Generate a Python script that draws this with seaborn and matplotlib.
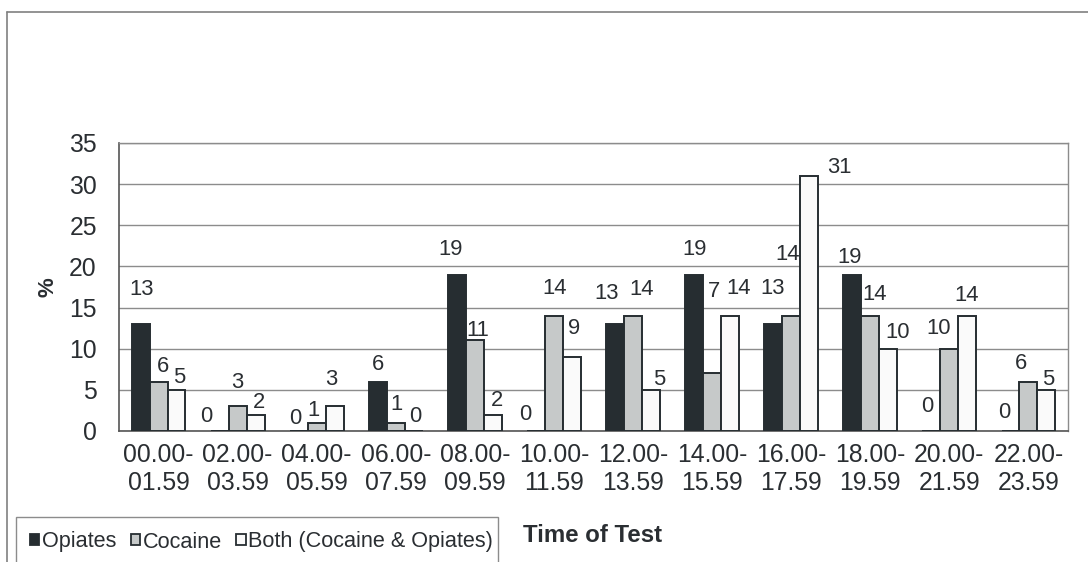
import numpy as np
import pandas as pd
import matplotlib
matplotlib.use("Agg")
import matplotlib.pyplot as plt
from matplotlib.patches import Rectangle, Patch
from matplotlib.lines import Line2D
import seaborn as sns

# ---- data ----
time_labels = ["00.00-\n01.59", "02.00-\n03.59", "04.00-\n05.59", "06.00-\n07.59",
               "08.00-\n09.59", "10.00-\n11.59", "12.00-\n13.59", "14.00-\n15.59",
               "16.00-\n17.59", "18.00-\n19.59", "20.00-\n21.59", "22.00-\n23.59"]
series_names = ["Opiates", "Cocaine", "Both (Cocaine & Opiates)"]
opiates = [13, 0, 0, 6, 19, 0, 13, 19, 13, 19, 0, 0]
cocaine = [6, 3, 1, 1, 11, 14, 14, 7, 14, 14, 10, 6]
both = [5, 2, 3, 0, 2, 9, 5, 14, 31, 10, 14, 5]
y_ticks = [0, 5, 10, 15, 20, 25, 30, 35]

# ---- style ----
fill_colors = ["#262d31", "#c6c9c9", "#fafafa"]
edge_color = "#262d31"
text_color = "#2a2e32"
grid_color = "#8c8c8c"
# label offsets (pixels, x right / y down) relative to bar-top centre
label_offsets = [
    [(1, -35), (-13, -14), (-4, -12), (0, -17), (-6, -25), (-11, -17),
     (-8, -31), (0, -25), (-1, -36), (-2.5, -17.6), (-4, -24), (-6, -18)],
    [(4, -15), (0, -24), (-3, -12), (1, -18), (3, -10), (1, -27),
     (9, -26), (2, -82), (-4, -61), (4.5, -21), (-10.5, -20), (-7, -18)],
    [(3, -12), (3, -12), (-3, -27), (2, -14), (4, -14), (2, -28),
     (8, -10), (8.5, -27), (30, -8), (9, -16), (-1, -20), (1.5, -10)],
]

sns.set_style("white")
plt.rcParams["font.family"] = ["Liberation Sans", "DejaVu Sans"]
plt.rcParams["text.color"] = text_color

df = pd.DataFrame({
    "time": time_labels * 3,
    "pct": opiates + cocaine + both,
    "type": [series_names[0]] * 12 + [series_names[1]] * 12 + [series_names[2]] * 12,
})

W, H = 1088, 562
fig = plt.figure(figsize=(W / 100, H / 100), dpi=100)
ax = fig.add_axes([119 / W, 1 - 431 / H, (1068 - 119) / W, (431 - 143) / H])

sns.barplot(data=df, x="time", y="pct", hue="type", order=time_labels,
            hue_order=series_names, palette=fill_colors, saturation=1,
            width=0.68, edgecolor=edge_color, linewidth=1.4, legend=False,
            errorbar=None, ax=ax, zorder=3)

ax.set_xlim(-0.5, len(time_labels) - 0.5)
ax.set_ylim(0, 35)
ax.set_yticks(y_ticks)
ax.set_xlabel("")
ax.set_ylabel("")

ax.set_xticks(np.arange(-0.5, len(time_labels), 1.0))
ax.set_xticklabels([])
ax.set_xticks(np.arange(len(time_labels)), minor=True)
ax.set_xticklabels(time_labels, minor=True)
ax.tick_params(axis="x", which="major", length=4, width=1, color="#555555", direction="out")
ax.tick_params(axis="x", which="minor", length=0, pad=9, labelsize=17.8, labelcolor=text_color)
ax.tick_params(axis="y", length=5, width=1, color="#555555", direction="out",
               pad=11, labelsize=17.8, labelcolor=text_color)

ax.yaxis.grid(True, color=grid_color, linewidth=1.0, zorder=0)
ax.set_axisbelow(True)
for side in ["left", "bottom"]:
    ax.spines[side].set_color("#555555")
    ax.spines[side].set_linewidth(1.2)
for side in ["top", "right"]:
    ax.spines[side].set_color(grid_color)
    ax.spines[side].set_linewidth(1.0)

# data labels
for si, cont in enumerate(ax.containers):
    for bi, bar in enumerate(cont):
        dx, dy = label_offsets[si][bi]
        val = [opiates, cocaine, both][si][bi]
        ax.annotate(f"{val}", xy=(bar.get_x() + bar.get_width() / 2, bar.get_height()),
                    xytext=(dx, -dy), textcoords="offset pixels",
                    ha="center", va="center", fontsize=15.8, color=text_color,
                    annotation_clip=False, zorder=5)

# axis titles
fig.text(48 / W, 1 - 287 / H, "%", rotation=90, ha="center", va="center",
         fontsize=16, fontweight="bold", color=text_color)
fig.text(523 / W, 1 - 535 / H, "Time of Test", ha="left", va="center",
         fontsize=17.3, fontweight="bold", color=text_color)

# legend
handles = [Patch(facecolor=c, edgecolor=edge_color, linewidth=1.3) for c in fill_colors]
fig.legend(handles, series_names, loc="center left",
           bbox_to_anchor=(30 / W, 1 - 542 / H), ncol=3, frameon=False,
           fontsize=15.6, handlelength=0.42, handleheight=0.42, handletextpad=0.12,
           columnspacing=0.68, borderpad=0, borderaxespad=0, labelcolor=text_color)
fig.patches.append(Rectangle((16 / W, -12 / H), (498 - 16) / W, (562 - 517 + 12) / H,
                             transform=fig.transFigure, fill=False,
                             edgecolor=grid_color, linewidth=1.0))

# outer border
fig.lines.append(Line2D([7 / W, 7 / W], [0, 1 - 12 / H], transform=fig.transFigure,
                        color="#808080", linewidth=1.2))
fig.lines.append(Line2D([7 / W, 1], [1 - 12 / H, 1 - 12 / H], transform=fig.transFigure,
                        color="#808080", linewidth=1.2))

fig.savefig("out.png", dpi=100, facecolor="white")
